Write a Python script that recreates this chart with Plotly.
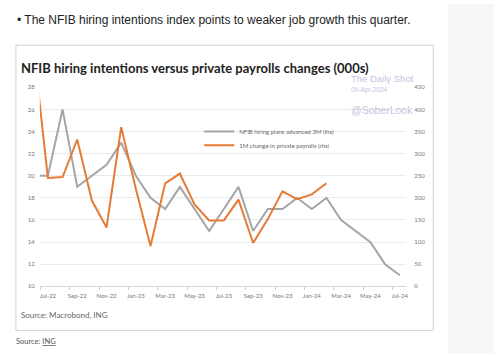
import plotly.graph_objects as go

# ---- data (month index 0 = Jul-22; -1 = Jun-22, partly clipped by the axis) ----
months = list(range(-1, 25))
nfib_hiring = [20, 20, 26, 19, 20, 21, 23, 20, 18, 17, 19, 17, 15, 17, 19, 15, 17, 17, 18, 17, 18,
               16, 15, 14, 12, 11]
payroll_months = list(range(-1, 20))
payrolls_chg = [545, 245, 247, 332, 194, 133, 360, 220, 91, 233, 255, 185, 149, 149, 196, 98, 152,
                215, 197, 208, 233]
tick_idx = list(range(0, 25, 2))
tick_labels = ["Jul-22", "Sep-22", "Nov-22", "Jan-23", "Mar-23", "May-23", "Jul-23", "Sep-23",
               "Nov-23", "Jan-24", "Mar-24", "May-24", "Jul-24"]
boundary_idx = [i - 0.5 for i in range(0, 25, 2)]

W, H = 496, 356
GRAY = "#a5a5a5"
ORANGE = "#e57b35"
LFONT = dict(family="Lato, Open Sans, sans-serif", size=6, color="#666")

fig = go.Figure()
fig.add_trace(go.Scatter(x=months, y=nfib_hiring, mode="lines", name="NFIB hiring plans advanced 3M (lhs)",
                         line=dict(color=GRAY, width=2), yaxis="y", legend="legend"))
fig.add_trace(go.Scatter(x=payroll_months, y=payrolls_chg, mode="lines", name="1M change in private payrolls (rhs)",
                         line=dict(color=ORANGE, width=2), yaxis="y2", legend="legend2"))

x0, x1 = 40 / W, 408 / W
y0, y1 = 1 - 288 / H, 1 - 85 / H

tickfont = dict(family="Lato, Open Sans, sans-serif", size=6, color="#777")

fig.update_layout(
    width=W, height=H, autosize=False,
    margin=dict(l=0, r=0, t=0, b=0),
    paper_bgcolor="white", plot_bgcolor="rgba(0,0,0,0)",
    showlegend=True,
    legend=dict(x=200 / W, y=1 - 130 / H, xanchor="left", yanchor="middle", bgcolor="rgba(0,0,0,0)",
                font=LFONT, itemwidth=30),
    legend2=dict(x=200 / W, y=1 - 144 / H, xanchor="left", yanchor="middle", bgcolor="rgba(0,0,0,0)",
                 font=LFONT, itemwidth=30),
    xaxis=dict(domain=[x0, x1], range=[-0.55, 24.45], tickmode="array", tickvals=tick_idx,
               ticktext=tick_labels, ticks="", showgrid=False, zeroline=False, showline=True,
               linecolor="#d6d6d6", linewidth=1, tickfont=tickfont, ticklabelstandoff=3,
               minor=dict(tickmode="array", tickvals=boundary_idx, ticks="outside", ticklen=3,
                          tickcolor="#cfcfcf", showgrid=False)),
    yaxis=dict(domain=[y0, y1], range=[10, 28], dtick=2, showgrid=True, gridcolor="#ebebeb",
               gridwidth=1.3, zeroline=False, ticks="", tickfont=tickfont, ticklabelstandoff=4),
    yaxis2=dict(overlaying="y", side="right", range=[0, 450], dtick=50, showgrid=False,
                zeroline=False, ticks="", tickfont=tickfont, ticklabelstandoff=7, anchor="x"),
)

shapes = [
    dict(type="rect", xref="paper", yref="paper", x0=450 / W, x1=1, y0=0, y1=1,
         fillcolor="#f7f7f7", line=dict(width=0), layer="below"),
    dict(type="rect", xref="paper", yref="paper", x0=16 / W, x1=435 / W, y0=1 - 333 / H, y1=1 - 42 / H,
         fillcolor="rgba(0,0,0,0)", line=dict(color="#d2d2d2", width=1), layer="below"),
]
fig.update_layout(shapes=shapes)

ann = []
def txt(x, y, text, size, color, family, anchor="left", **kw):
    ann.append(dict(x=x / W, y=1 - y / H, xref="paper", yref="paper", text=text, showarrow=False,
                    xanchor=anchor, yanchor="middle", font=dict(size=size, color=color, family=family), **kw))

txt(15, 16, "• The NFIB hiring intentions index points to weaker job growth this quarter.", 12, "#222",
    "Liberation Sans, Arial, sans-serif")
txt(19, 65, "<b>NFIB hiring intentions versus private payrolls changes (000s)</b>", 13, "#222",
    "Lato, Open Sans, sans-serif")
txt(350, 76, "The Daily Shot", 9.5, "#c4c4dc", "Liberation Sans, Arial, sans-serif")
txt(350, 88, "09-Apr-2024", 6.5, "#c4c4dc", "Liberation Sans, Arial, sans-serif")
txt(350, 108, "@SoberLook", 10.5, "#c4c4dc", "Liberation Sans, Arial, sans-serif")
txt(19, 317, "Source: Macrobond, ING", 8, "#666", "Lato, Open Sans, sans-serif")
txt(14, 344, "Source: <u>ING</u>", 7.5, "#555", "Lato, Open Sans, sans-serif")
fig.update_layout(annotations=ann)

fig.write_html("out.html", config={"displayModeBar": False},
               post_script="document.body.style.margin='0';document.body.style.overflow='hidden';")
